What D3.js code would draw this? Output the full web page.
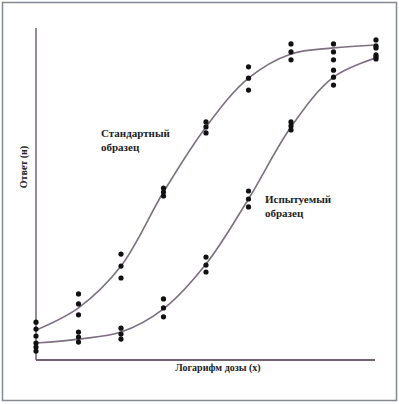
<!DOCTYPE html>
<html>
<head>
<meta charset="utf-8">
<script src="https://cdn.jsdelivr.net/npm/d3@7"></script>
<style>
  body { margin: 0; background: #fff; }
</style>
</head>
<body>
<svg id="chart" width="399" height="404"></svg>
<script>
// dose levels (log scale index)
var doses = [0, 1, 2, 3, 4, 5, 6, 7, 8];

// replicate responses, three per dose
var standardPoints = [
  [11.4, 9.3, 7.2], [19.9, 16.9, 13.6], [31.9, 28.3, 24.7],
  [51.8, 50.6, 49.4], [71.7, 70.2, 68.4], [88.3, 84.9, 81.3],
  [95.2, 92.8, 90.4], [95.2, 92.8, 90.4], [96.4, 94.6, 94.0]
];
var testPoints = [
  [5.1, 3.9, 2.7], [8.4, 6.9, 5.4], [9.6, 7.8, 6.3],
  [18.4, 15.7, 13.0], [31.0, 28.6, 26.5], [50.9, 48.5, 46.1],
  [71.7, 70.5, 69.3], [87.3, 85.2, 82.8], [91.9, 91.3, 90.7]
];

// fitted curves, value at each dose
var standardCurve = [9.0, 15.7, 28.3, 50.6, 70.2, 84.9, 92.2, 94.0, 94.9];
var testCurve = [5.1, 6.3, 8.4, 15.4, 28.9, 48.5, 70.2, 85.2, 91.0];

var serif = "'Liberation Serif', 'Times New Roman', 'DejaVu Serif', serif";

var svg = d3.select("#chart");

var x = d3.scaleLinear().domain([0, 8]).range([36, 376]),
    y = d3.scaleLinear().domain([0, 100]).range([360, 28]);

// outer frame
svg.append("rect")
  .attr("x", 2.5).attr("y", 2.5)
  .attr("width", 394).attr("height", 398)
  .attr("fill", "#fff")
  .attr("stroke", "#858a92")
  .attr("stroke-width", 1.5);

// axes (no ticks)
svg.append("line")
  .attr("x1", x(0)).attr("y1", y(0))
  .attr("x2", x(0)).attr("y2", 28)
  .attr("stroke", "#6f6470").attr("stroke-width", 1.5);
svg.append("line")
  .attr("x1", x(0)).attr("y1", y(0))
  .attr("x2", 375).attr("y2", y(0))
  .attr("stroke", "#6f6470").attr("stroke-width", 2);

var line = d3.line()
  .x((d, i) => x(doses[i]))
  .y(d => y(d))
  .curve(d3.curveCatmullRom.alpha(0.5));

[standardCurve, testCurve].forEach(function(c) {
  svg.append("path")
    .attr("d", line(c))
    .attr("fill", "none")
    .attr("stroke", "#7d7080")
    .attr("stroke-width", 1.6);
});

// dots
function drawDots(series) {
  var flat = [];
  series.forEach(function(vals, i) {
    vals.forEach(v => flat.push({ dose: doses[i], v: v }));
  });
  svg.append("g").selectAll("circle")
    .data(flat)
    .enter().append("circle")
    .attr("cx", d => x(d.dose))
    .attr("cy", d => y(d.v))
    .attr("r", 2.6)
    .attr("fill", "#111");
}
drawDots(standardPoints);
drawDots(testPoints);

// labels
function label(px, py, size, str) {
  return svg.append("text")
    .attr("x", px).attr("y", py)
    .attr("font-family", serif)
    .attr("font-weight", "bold")
    .attr("font-size", size)
    .attr("fill", "#222")
    .text(str);
}
label(101, 137, 11, "Стандартный");
label(101, 151, 11, "образец");
label(265, 203, 11, "Испытуемый");
label(265, 217, 11, "образец");

label(218, 371, 10, "Логарифм дозы (x)").attr("text-anchor", "middle");
label(0, 0, 10, "Ответ (н)")
  .attr("transform", "translate(27,167) rotate(-90)")
  .attr("text-anchor", "middle");
</script>
</body>
</html>
